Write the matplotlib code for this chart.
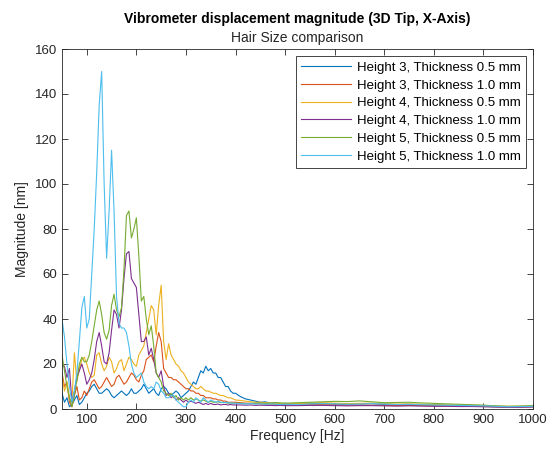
import numpy as np
import matplotlib.pyplot as plt

# frequency grid (Hz): 5 Hz steps up to 400, then coarser
freq = np.concatenate([np.arange(50, 401, 5), np.arange(410, 501, 10), np.arange(525, 1001, 25)])

h3_t05 = [7, 3, 5, 1, 2, 4, 6, 2, 3, 5,
          7, 8, 10, 11, 9, 7, 7, 8, 9, 8,
          6, 5, 6, 7, 8, 7, 6, 7, 9, 7,
          7, 8, 9, 11, 9, 7, 8, 9, 7, 6,
          9, 10, 9, 7, 6, 7, 8, 7, 5, 6,
          7, 8, 10, 12, 11, 14, 17, 16, 19, 17,
          18, 16, 16, 14, 14, 12, 10, 10, 8, 7,
          7,
          5.5, 4.5, 4, 3.5, 3, 3.2, 2.6, 2.8, 2.4, 2.5,
          2.2, 2.5, 2.4, 2.2, 2.0, 2.3, 2.4, 2.0, 1.8, 2.0,
          1.7, 1.6, 1.5, 1.4, 1.3, 1.2, 1.0, 0.9, 1.0, 1.1]

h3_t10 = [16, 10, 12, 3, 1, 6, 10, 4, 5, 8,
          6, 9, 12, 13, 11, 9, 10, 12, 14, 12,
          10, 11, 14, 15, 13, 11, 12, 14, 16, 15,
          13, 12, 15, 17, 22, 23, 24, 21, 28, 34,
          30, 18, 16, 14, 14, 13, 13, 12, 11, 10,
          9, 9, 8, 8, 7, 7, 6, 6, 5, 5,
          5, 4.5, 4.5, 4, 4, 3.5, 3.5, 3, 3, 3,
          3,
          2.8, 2.6, 2.5, 2.4, 2.3, 2.2, 2.2, 2.1, 2.0, 2.0,
          1.9, 2.0, 1.9, 1.8, 1.7, 1.8, 1.7, 1.6, 1.5, 1.6,
          1.5, 1.4, 1.3, 1.3, 1.2, 1.1, 1.0, 0.9, 0.9, 1.0]

h4_t05 = [15, 8, 12, 5, 3, 25, 12, 18, 22, 23,
          20, 16, 14, 15, 24, 25, 20, 17, 19, 23,
          21, 16, 18, 21, 22, 17, 20, 23, 22, 20,
          19, 24, 26, 28, 34, 40, 46, 44, 33, 46,
          55, 30, 22, 29, 24, 22, 20, 19, 17, 16,
          14, 12, 11, 10, 9, 9, 10, 9, 8, 8,
          7.5, 7, 7, 6.5, 6, 6, 5.5, 5, 5, 4.5,
          4,
          3.8, 3.5, 3.2, 3.0, 3.0, 2.8, 2.7, 2.6, 2.5, 2.4,
          2.4, 2.6, 2.8, 2.6, 2.4, 2.5, 2.6, 2.4, 2.2, 2.3,
          2.1, 2.0, 1.9, 1.8, 1.7, 1.6, 1.4, 1.2, 1.3, 1.4]

h4_t10 = [19, 19, 14, 18, 3, 8, 14, 17, 20, 16,
          11, 13, 16, 22, 30, 34, 28, 21, 20, 25,
          35, 44, 42, 36, 44, 58, 69, 70, 58, 56,
          54, 42, 30, 30, 32, 24, 27, 22, 16, 14,
          17, 10, 6, 7, 5, 6, 4, 5, 4, 3,
          4, 3, 3.5, 3, 2.5, 3, 2.5, 2, 2.5, 2,
          2.5, 2, 2, 2.2, 1.8, 2, 2, 1.8, 2, 1.8,
          1.8,
          1.8, 1.7, 1.8, 1.6, 1.7, 1.6, 1.6, 1.5, 1.6, 1.5,
          1.5, 1.6, 1.6, 1.5, 1.4, 1.5, 1.5, 1.4, 1.3, 1.4,
          1.3, 1.2, 1.2, 1.1, 1.1, 1.0, 0.9, 0.8, 0.8, 0.9]

h5_t05 = [24, 17, 10, 5, 1, 6, 13, 20, 23, 21,
          21, 24, 30, 37, 44, 48, 42, 34, 31, 35,
          46, 51, 44, 41, 45, 62, 86, 88, 76, 80,
          85, 68, 48, 50, 40, 33, 37, 28, 16, 14,
          12, 8, 7, 6, 7, 5, 6, 4, 5, 4,
          5, 4, 5, 4, 4.5, 4, 3.5, 4, 3.5, 3,
          3.5, 3, 3, 3.2, 2.8, 3, 2.8, 2.6, 2.8, 2.6,
          2.5,
          2.6, 2.4, 2.5, 2.6, 2.7, 2.5, 2.6, 2.8, 2.7, 2.6,
          2.8, 3.0, 3.2, 3.4, 3.3, 3.6, 3.2, 2.8, 2.9, 3.0,
          2.7, 2.5, 2.3, 2.1, 1.9, 1.7, 1.4, 1.2, 1.3, 1.5]

h5_t10 = [40, 32, 20, 10, 3, 8, 16, 30, 45, 50,
          36, 40, 60, 80, 105, 135, 150, 100, 67, 88,
          115, 88, 50, 38, 36, 36, 34, 28, 20, 16,
          14, 15, 16, 12, 10, 9, 10, 9, 12, 11,
          8, 7, 5, 5, 6, 6, 4, 3, 2, 1,
          1, 3, 4, 3, 5, 4, 3, 5, 4, 3,
          4, 3.5, 3, 3.5, 3, 2.8, 3, 2.8, 2.6, 2.6,
          2.5,
          2.4, 2.3, 2.4, 2.2, 2.3, 2.1, 2.2, 2.1, 2.0, 2.1,
          2.0, 2.2, 2.4, 2.3, 2.1, 2.2, 2.4, 2.2, 2.0, 2.1,
          1.9, 1.8, 1.7, 1.6, 1.5, 1.4, 1.2, 1.0, 1.1, 1.2]

series = [h3_t05, h3_t10, h4_t05, h4_t10, h5_t05, h5_t10]
labels = ['Height 3, Thickness 0.5 mm', 'Height 3, Thickness 1.0 mm',
          'Height 4, Thickness 0.5 mm', 'Height 4, Thickness 1.0 mm',
          'Height 5, Thickness 0.5 mm', 'Height 5, Thickness 1.0 mm']
colors = ['#0072BD', '#D95319', '#EDB120', '#7E2F8E', '#77AC30', '#4DBEEE']

plt.rcParams['font.family'] = ['Liberation Sans', 'DejaVu Sans']

fig = plt.figure(figsize=(5.51, 4.57), dpi=100)
ax = fig.add_axes([62/551, 48/457, 471/551, 360/457])

for y, lab, c in zip(series, labels, colors):
    ax.plot(freq, y, color=c, lw=0.8, label=lab)

ax.set_xlim(50, 1000)
ax.set_ylim(0, 160)
ax.set_xticks(np.arange(100, 1001, 100))
ax.set_yticks(np.arange(0, 161, 20))
ax.tick_params(direction='in', length=4, width=0.6, top=True, right=True,
               labelsize=9.5, colors='#262626')
for s in ax.spines.values():
    s.set_color('#262626')
    s.set_linewidth(0.6)

ax.set_xlabel('Frequency [Hz]', fontsize=10, color='#262626', labelpad=2)
ax.set_ylabel('Magnitude [nm]', fontsize=10, color='#262626', labelpad=4)
ax.text(0.5, 1.063, 'Vibrometer displacement magnitude (3D Tip, X-Axis)', transform=ax.transAxes,
        ha='center', va='bottom', fontsize=10, fontweight='bold', color='black')
ax.text(0.5, 1.01, 'Hair Size comparison', transform=ax.transAxes,
        ha='center', va='bottom', fontsize=10, color='#262626')

leg = ax.legend(loc='upper right', fontsize=9.5, fancybox=False, framealpha=1,
                edgecolor='#262626', handlelength=3.8, handletextpad=0.4,
                labelspacing=0.42, borderpad=0.4, borderaxespad=0.55)
leg.get_frame().set_linewidth(0.6)

fig.savefig('out.png', dpi=100)
